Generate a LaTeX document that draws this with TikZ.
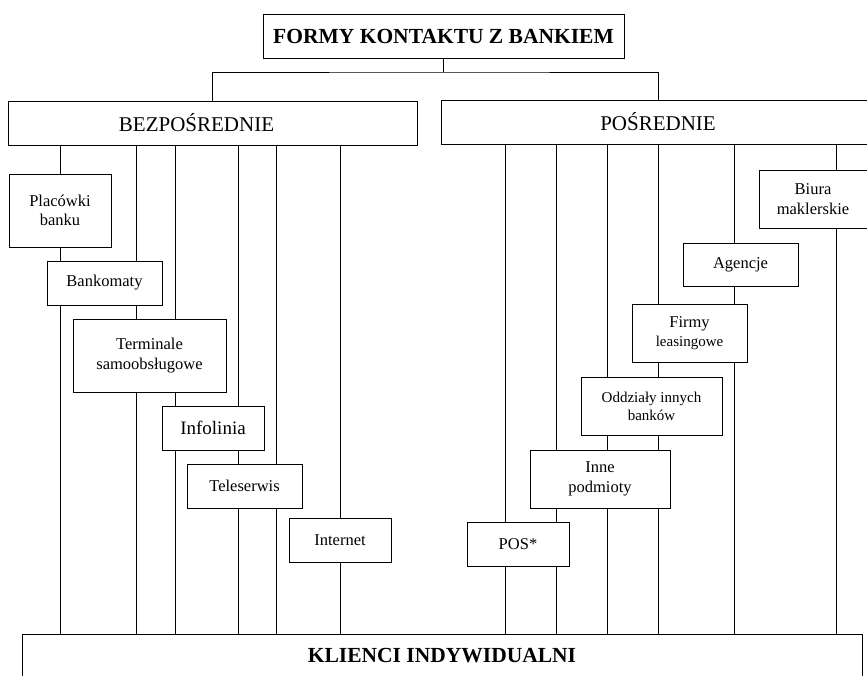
\documentclass[tikz,border=0pt]{standalone}
\usepackage{fontspec}
\setmainfont{Liberation Serif}
\tikzset{
  frame/.style={draw,line width=1pt,fill=white,inner sep=0pt,align=center},
  head/.style={frame,minimum height=44pt,font=\fontsize{21}{25}\selectfont},
  headbold/.style={head,font=\bfseries\fontsize{21.5}{25}\selectfont},
  entry/.style={frame,font=\fontsize{16.5}{19.5}\selectfont},
  link/.style={line width=1pt}
}

\begin{document}
\begin{tikzpicture}[x=1pt,y=-1pt]
  \useasboundingbox (0,0) rectangle (867,675);
  \clip (0,0) rectangle (867,675);

  % main levels
  \node[headbold,minimum width=361pt] (forms) at (443.5,36) {FORMY KONTAKTU Z BANKIEM};
  \node[head,minimum width=409pt] (direct) at (212.5,123) {};
  \node[font=\fontsize{21}{25}\selectfont,inner sep=0pt] (directtxt)
    at ([xshift=-16pt]direct.center) {BEZPOŚREDNIE};
  \node[head,minimum width=434pt] (indirect) at (658,122) {POŚREDNIE};
  \node[headbold,minimum width=840pt] (clients) at (442,656) {KLIENCI INDYWIDUALNI};

  \coordinate (split) at (forms.south |- 0,72);
  \draw[link] (forms.south) -- (split);
  \draw[link] (direct.north) |- (split) -| (indirect.north);

  % channels down to the clients
  \foreach \x in {60,136,175,238,276,340}
    \draw[link] (\x,0 |- direct.south) -- (\x,0 |- clients.north);
  \foreach \x in {505,556,607,658,734,836}
    \draw[link] (\x,0 |- indirect.south) -- (\x,0 |- clients.north);

  % direct forms
  \node[entry,minimum width=102pt,minimum height=73pt] (branch) at (60,210.5) {Placówki\\banku};
  \node[entry,minimum width=115pt,minimum height=44pt] (atm) at (104.5,283) {Bankomaty};
  \node[entry,minimum width=153pt,minimum height=73pt] (kiosk) at (149.5,355.5) {Terminale\\samoobsługowe};
  \node[entry,minimum width=102pt,minimum height=44pt,
        font=\fontsize{19}{22}\selectfont] (hotline) at (213,428) {Infolinia};
  \node[entry,minimum width=115pt,minimum height=44pt] (teleserv) at (244.5,486) {Teleserwis};
  \node[entry,minimum width=102pt,minimum height=44pt] (web) at (340,540) {Internet};

  % indirect forms
  \node[entry,minimum width=108pt,minimum height=58pt] (brokers) at (813,199) {Biura\\maklerskie};
  \node[entry,minimum width=115pt,minimum height=43pt] (agencies) at (740.5,264.5) {Agencje};
  \node[entry,minimum width=115pt,minimum height=58pt] (leasing) at (689.5,333)
    {Firmy\\{\fontsize{15}{18}\selectfont leasingowe}};
  \node[entry,minimum width=141pt,minimum height=58pt,
        font=\fontsize{15}{18}\selectfont] (otherbanks) at (651.5,406) {Oddziały innych\\banków};
  \node[entry,minimum width=140pt,minimum height=58pt] (others) at (600,479) {Inne\\podmioty};
  \node[entry,minimum width=102pt,minimum height=44pt] (pos) at (518,544) {POS*};
\end{tikzpicture}
\end{document}
